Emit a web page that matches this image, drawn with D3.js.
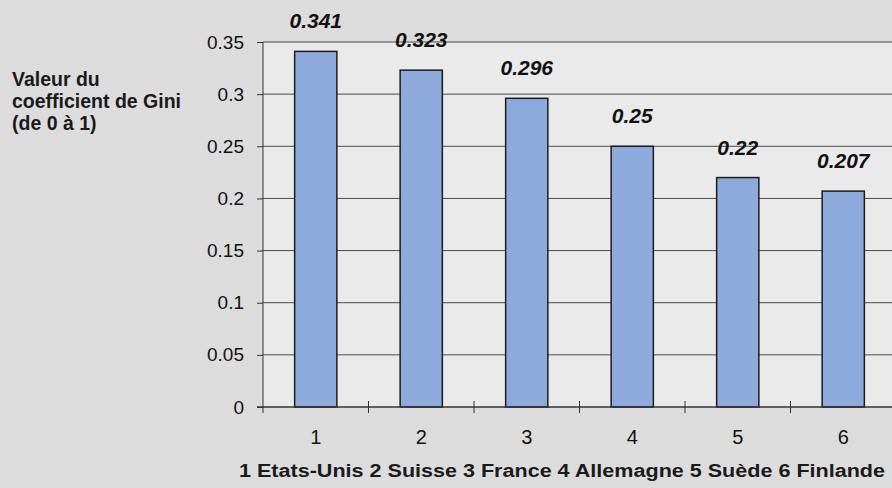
<!DOCTYPE html>
<html lang="fr">
<head>
<meta charset="utf-8">
<script src="https://cdn.jsdelivr.net/npm/d3@7"></script>
<style>
  html, body { margin: 0; padding: 0; background: #dcdcdc; }
  svg { display: block; font-family: Arial, "Liberation Sans", sans-serif; }
</style>
</head>
<body>
<svg id="chart" width="892" height="488"></svg>
<script>
// Gini coefficient by country
const categories = ["1", "2", "3", "4", "5", "6"];
const countries = ["Etats-Unis", "Suisse", "France", "Allemagne", "Suède", "Finlande"];
const giniValues = [0.341, 0.323, 0.296, 0.25, 0.22, 0.207];
const yTickValues = [0, 0.05, 0.1, 0.15, 0.2, 0.25, 0.3, 0.35];
const yTitleLines = ["Valeur du", "coefficient de Gini", "(de 0 à 1)"];

const svg = d3.select("#chart");
const W = 892, H = 488;
const plot = { left: 263, top: 42, right: 896, bottom: 407 };

svg.append("rect").attr("width", W).attr("height", H).attr("fill", "#dcdcdc");

const x = d3.scaleBand()
  .domain(categories)
  .range([plot.left, plot.right])
  .paddingInner(0.6)
  .paddingOuter(0.3);

const y = d3.scaleLinear()
  .domain([0, 0.35])
  .range([plot.bottom, plot.top]);

// plot area background
svg.append("rect")
  .attr("x", plot.left).attr("y", plot.top)
  .attr("width", plot.right - plot.left)
  .attr("height", plot.bottom - plot.top)
  .attr("fill", "#eaeaea");

// horizontal gridlines
svg.append("g")
  .selectAll("line")
  .data(yTickValues.filter(v => v > 0))
  .join("line")
  .attr("x1", plot.left).attr("x2", plot.right)
  .attr("y1", d => y(d)).attr("y2", d => y(d))
  .attr("stroke", "#4a4a4a").attr("stroke-width", 1);

// bars
svg.append("g")
  .selectAll("rect")
  .data(giniValues)
  .join("rect")
  .attr("x", (d, i) => x(categories[i]))
  .attr("y", d => y(d))
  .attr("width", x.bandwidth())
  .attr("height", d => y(0) - y(d))
  .attr("fill", "#8eaadc")
  .attr("stroke", "#1c1c1c")
  .attr("stroke-width", 1.5);

// value labels
svg.append("g")
  .selectAll("text")
  .data(giniValues)
  .join("text")
  .attr("x", (d, i) => x(categories[i]) + x.bandwidth() / 2)
  .attr("y", d => y(d) - 23)
  .attr("text-anchor", "middle")
  .attr("font-size", 21)
  .attr("font-weight", "bold")
  .attr("font-style", "italic")
  .attr("fill", "#111")
  .text(d => String(d));

// y axis
const yAxis = d3.axisLeft(y)
  .tickValues(yTickValues)
  .tickSize(6)
  .tickPadding(13)
  .tickFormat(d => String(d));
const gy = svg.append("g")
  .attr("transform", `translate(${plot.left},0)`)
  .call(yAxis);
gy.select(".domain").remove();
gy.selectAll(".tick line").attr("stroke", "#333");
gy.selectAll(".tick text")
  .attr("font-size", 19)
  .attr("font-family", "Arial, 'Liberation Sans', sans-serif")
  .attr("fill", "#111");
svg.append("line")
  .attr("x1", plot.left).attr("x2", plot.left)
  .attr("y1", plot.top).attr("y2", plot.bottom + 6)
  .attr("stroke", "#333").attr("stroke-width", 1);

// x axis: baseline, category boundary ticks, labels
svg.append("line")
  .attr("x1", plot.left - 6).attr("x2", plot.right)
  .attr("y1", y(0)).attr("y2", y(0))
  .attr("stroke", "#333").attr("stroke-width", 1.3);
svg.append("g")
  .selectAll("line")
  .data(categories.slice(1))
  .join("line")
  .attr("x1", d => x(d) - x.step() * x.paddingInner() / 2)
  .attr("x2", d => x(d) - x.step() * x.paddingInner() / 2)
  .attr("y1", y(0) - 6).attr("y2", y(0) + 6)
  .attr("stroke", "#333");
svg.append("g")
  .selectAll("text")
  .data(categories)
  .join("text")
  .attr("x", d => x(d) + x.bandwidth() / 2)
  .attr("y", 444)
  .attr("text-anchor", "middle")
  .attr("font-size", 20)
  .attr("fill", "#111")
  .text(d => d);

// y axis title
svg.append("g")
  .selectAll("text")
  .data(yTitleLines)
  .join("text")
  .attr("x", 12)
  .attr("y", (d, i) => 86 + i * 22)
  .attr("font-size", 19.5)
  .attr("font-weight", "bold")
  .attr("fill", "#1a1a1a")
  .text(d => d);

// legend caption mapping numbers to countries
svg.append("text")
  .attr("x", 239)
  .attr("y", 477)
  .attr("font-size", 18)
  .attr("font-weight", "bold")
  .attr("fill", "#1a1a1a")
  .attr("textLength", 646)
  .attr("lengthAdjust", "spacingAndGlyphs")
  .text(categories.map((c, i) => `${c} ${countries[i]}`).join("  "));
</script>
</body>
</html>
